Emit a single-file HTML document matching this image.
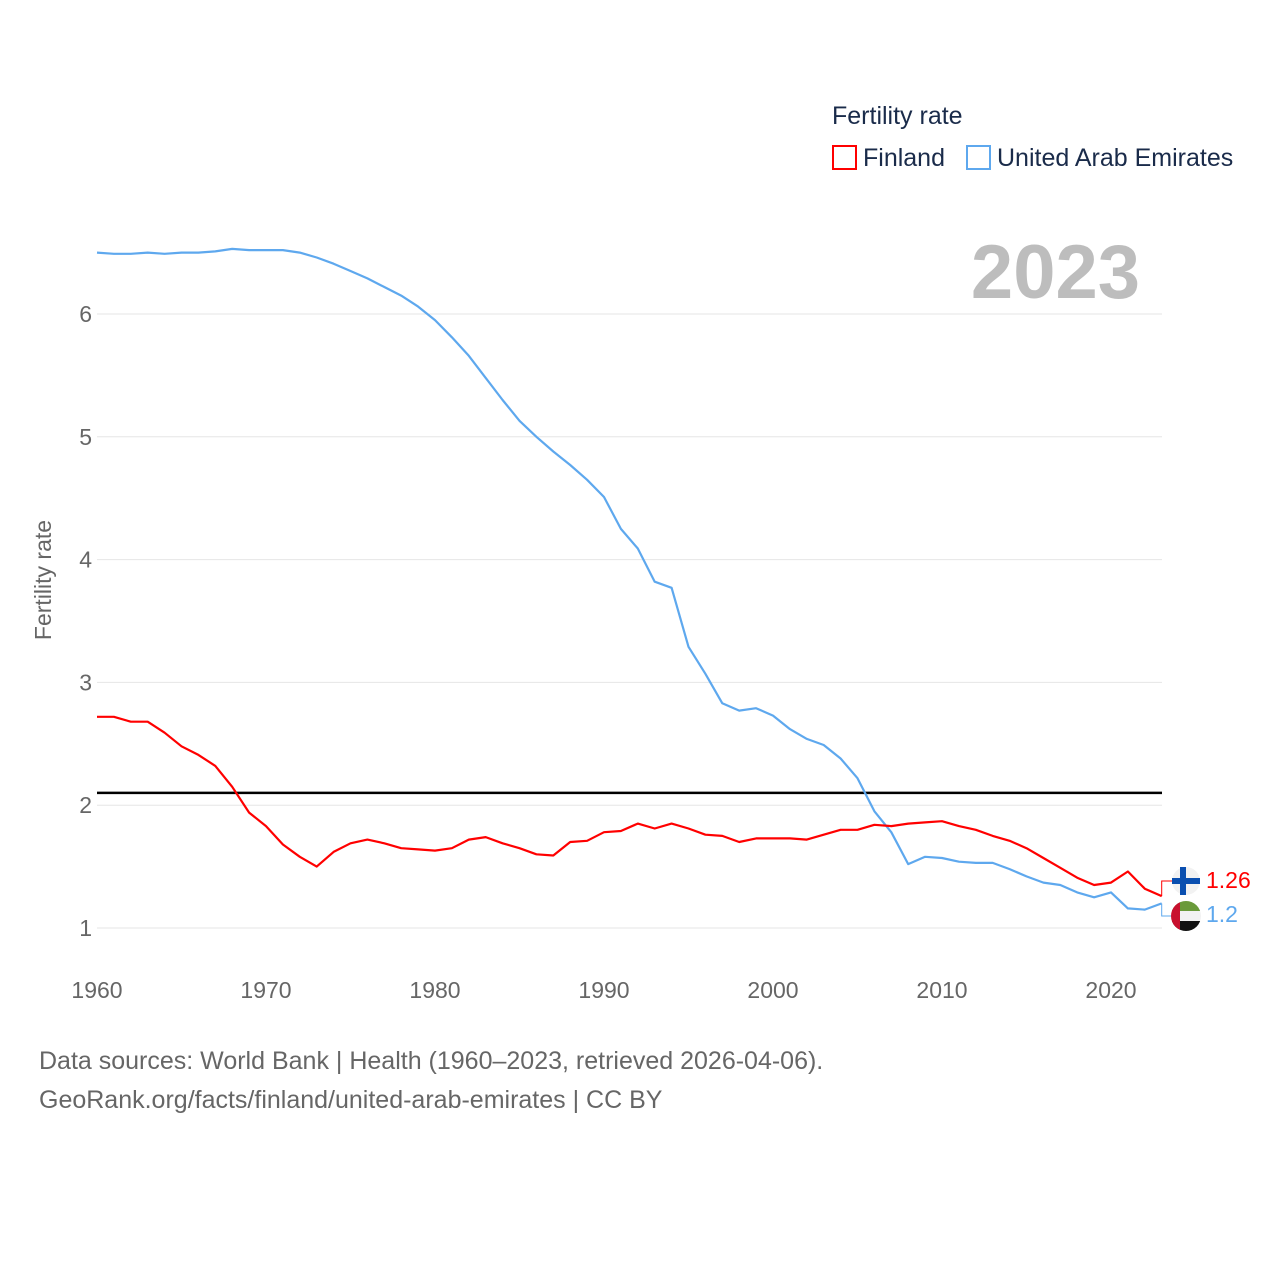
<!DOCTYPE html>
<html><head><meta charset="utf-8">
<style>
html,body{margin:0;padding:0;background:#fff;}
body{width:1280px;height:1280px;overflow:hidden;font-family:"Liberation Sans",sans-serif;}
</style></head>
<body>
<svg id="chart" width="1280" height="1280" xmlns="http://www.w3.org/2000/svg" font-family="Liberation Sans, sans-serif">
<g id="grid"></g>
<g id="yticks"></g>
<g id="xticks"></g>
<text transform="translate(51,580) rotate(-90)" text-anchor="middle" font-size="23" fill="#666">Fertility rate</text>
<text x="1140" y="298" text-anchor="end" font-size="76" font-weight="bold" fill="#bdbdbd">2023</text>
<line id="refline" stroke="#000" stroke-width="2.5"/>
<g id="series"></g>
<g>
<text x="832" y="124" font-size="25" fill="#1a2b4a">Fertility rate</text>
<rect x="833" y="146" width="23" height="23" fill="none" stroke="#ff0000" stroke-width="2"/>
<text x="863" y="166" font-size="25" fill="#1a2b4a">Finland</text>
<rect x="967" y="146" width="23" height="23" fill="none" stroke="#5ea8ee" stroke-width="2"/>
<text x="997" y="166" font-size="25" fill="#1a2b4a">United Arab Emirates</text>
</g>
<g>
<circle cx="1186" cy="881" r="14" fill="#f2f2f2"/>
<rect x="1172" y="878" width="28" height="6" fill="#0a4fb0"/>
<rect x="1180" y="867" width="6" height="28" fill="#0a4fb0"/>
</g>
<g>
<clipPath id="uc"><circle cx="1186" cy="916" r="15"/></clipPath>
<g clip-path="url(#uc)">
<rect x="1171" y="901" width="30" height="10" fill="#6a9a3a"/>
<rect x="1171" y="911" width="30" height="10" fill="#f2f2f2"/>
<rect x="1171" y="921" width="30" height="10" fill="#111"/>
<rect x="1171" y="901" width="9" height="30" fill="#c8102e"/>
</g></g>
<text x="1206" y="888" font-size="23" fill="#ff0000">1.26</text>
<text x="1206" y="922" font-size="23" fill="#5ea8ee">1.2</text>
<text x="39" y="1069" font-size="25" fill="#666">Data sources: World Bank | Health (1960–2023, retrieved 2026-04-06).</text>
<text x="39" y="1108" font-size="25" fill="#666">GeoRank.org/facts/finland/united-arab-emirates | CC BY</text>
</svg>
<script>
const years=[];for(let y=1960;y<=2023;y++)years.push(y);
const finland=[2.72,2.72,2.68,2.68,2.59,2.48,2.41,2.32,2.15,1.94,1.83,1.68,1.58,1.50,1.62,1.69,1.72,1.69,1.65,1.64,1.63,1.65,1.72,1.74,1.69,1.65,1.60,1.59,1.70,1.71,1.78,1.79,1.85,1.81,1.85,1.81,1.76,1.75,1.70,1.73,1.73,1.73,1.72,1.76,1.80,1.80,1.84,1.83,1.85,1.86,1.87,1.83,1.80,1.75,1.71,1.65,1.57,1.49,1.41,1.35,1.37,1.46,1.32,1.26];
const uae=[6.50,6.49,6.49,6.50,6.49,6.50,6.50,6.51,6.53,6.52,6.52,6.52,6.50,6.46,6.41,6.35,6.29,6.22,6.15,6.06,5.95,5.81,5.66,5.48,5.30,5.13,5.00,4.88,4.77,4.65,4.51,4.25,4.09,3.82,3.77,3.29,3.07,2.83,2.77,2.79,2.73,2.62,2.54,2.49,2.38,2.22,1.95,1.78,1.52,1.58,1.57,1.54,1.53,1.53,1.48,1.42,1.37,1.35,1.29,1.25,1.29,1.16,1.15,1.20];
const yTicks=[1,2,3,4,5,6];
const xTicks=[1960,1970,1980,1990,2000,2010,2020];
const refValue=2.1;
const X=y=>97+(y-1960)*(1111-97)/60;
const Y=v=>928-(v-1)*(928-314)/5;
const NS="http://www.w3.org/2000/svg";
function mk(tag,attrs,parent,txt){const e=document.createElementNS(NS,tag);for(const k in attrs)e.setAttribute(k,attrs[k]);if(txt!==undefined)e.textContent=txt;parent.appendChild(e);return e;}
const grid=document.getElementById('grid'),yt=document.getElementById('yticks'),xt=document.getElementById('xticks'),ser=document.getElementById('series');
yTicks.forEach(v=>{
 const l=mk('line',{x1:97,x2:1162,y1:Y(v),y2:Y(v),stroke:'#e6e6e6','stroke-width':1},grid);
 
 
 const t=mk('text',{x:92,y:Y(v)+8,'text-anchor':'end','font-size':23,fill:'#666'},yt,String(v));
 
 
});
xTicks.forEach(v=>{
 const t=mk('text',{x:X(v),y:998,'text-anchor':'middle','font-size':23,fill:'#666'},xt,String(v));
 
 
});
const rl=document.getElementById('refline');
rl.setAttribute('x1',97);rl.setAttribute('x2',1162);rl.setAttribute('y1',Y(refValue));rl.setAttribute('y2',Y(refValue));
function line(vals,color,name,flagY){
 const d=vals.map((v,i)=>(i?'L':'M')+X(years[i]).toFixed(1)+','+Y(v).toFixed(1)).join(' ');
 const p=mk('path',{d:d,fill:'none',stroke:color,'stroke-width':2.2,'stroke-linejoin':'round'},ser);
 
 
 const lx=X(years[years.length-1]), ly=Y(vals[vals.length-1]);
 const c=mk('path',{d:'M'+lx+','+ly+' L'+lx+','+flagY+' L1172,'+flagY,fill:'none',stroke:color,'stroke-width':1},ser);
 
 
}
line(uae,'#5ea8ee','line-uae',916);
line(finland,'#ff0000','line-finland',881);
</script>
</body></html>
